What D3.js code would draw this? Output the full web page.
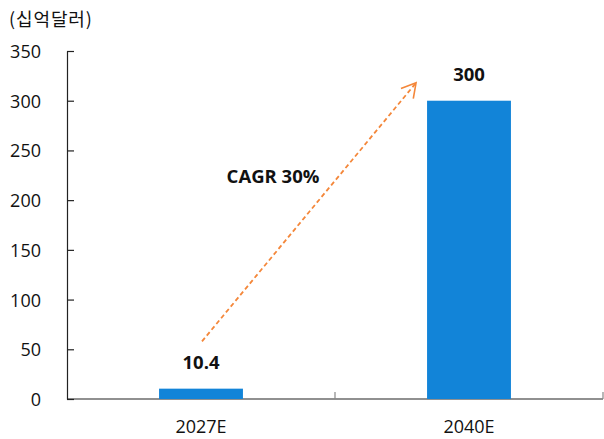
<!DOCTYPE html>
<html>
<head>
<meta charset="utf-8">
<script src="https://cdn.jsdelivr.net/npm/d3@7"></script>
<style>
  html, body { margin: 0; padding: 0; background: #fff; }
  svg { display: block; }
  text { font-family: "Open Sans", "Noto Sans CJK KR", sans-serif; fill: #111; }
</style>
</head>
<body>
<svg id="chart" width="604" height="439"></svg>
<script>
// Market size, billions of USD
const categories = ["2027E", "2040E"];
const values = [10.4, 300];
const valueLabels = ["10.4", "300"];
const yTicks = [0, 50, 100, 150, 200, 250, 300, 350];
const unitLabel = "(십억달러)";
const cagrLabel = "CAGR 30%";
// Growth arrow endpoints expressed in axis values
const arrowFromValue = 58;
const arrowToValue = 318;

const svg = d3.select("#chart");
const margin = { left: 67, right: 1, top: 51, bottom: 40 };
const W = 604, H = 439;

const x = d3.scaleBand()
  .domain(categories)
  .range([margin.left, W - margin.right])
  .paddingInner(0.687)
  .paddingOuter(0.3435);

const y = d3.scaleLinear()
  .domain([0, 350])
  .range([H - margin.bottom, margin.top]);

// Full-band scale used for the category separators on the x axis
const xBand = d3.scaleBand().domain(categories).range([margin.left, W - margin.right]);

// Y axis: ticks drawn inward
const yAxis = d3.axisLeft(y).tickValues(yTicks).tickSize(-7).tickPadding(0).tickSizeOuter(0);
const gy = svg.append("g").attr("transform", `translate(${margin.left},0)`).call(yAxis);
gy.select(".domain").attr("stroke", "#222").attr("stroke-width", 1.2);
gy.selectAll(".tick line").attr("stroke", "#222").attr("stroke-width", 1.2);
gy.selectAll(".tick text")
  .attr("x", -26)
  .attr("dy", "0.36em")
  .style("font-size", "18px")
  .attr("text-anchor", "end")
  .attr("fill", "#111");

// X axis line with separators between categories
const gx = svg.append("g").attr("transform", `translate(0,${y(0)})`);
gx.append("line")
  .attr("x1", margin.left).attr("x2", W - margin.right)
  .attr("stroke", "#222").attr("stroke-width", 1.2);
categories.forEach(c => {
  const xe = xBand(c) + xBand.bandwidth();
  gx.append("line")
    .attr("x1", xe).attr("x2", xe)
    .attr("y1", 0).attr("y2", -7)
    .attr("stroke", "#888").attr("stroke-width", 1.2);
});
gx.selectAll("text.cat")
  .data(categories)
  .join("text")
  .attr("class", "cat")
  .attr("x", d => x(d) + x.bandwidth() / 2)
  .attr("y", 34)
  .attr("text-anchor", "middle")
  .style("font-size", "18px")
  .text(d => d);

// Bars
svg.selectAll("rect.bar")
  .data(values)
  .join("rect")
  .attr("class", "bar")
  .attr("x", (d, i) => x(categories[i]))
  .attr("width", x.bandwidth())
  .attr("y", d => y(d))
  .attr("height", d => y(0) - y(d))
  .attr("fill", "#1284d8");

// Value labels
svg.selectAll("text.val")
  .data(values)
  .join("text")
  .attr("class", "val")
  .attr("x", (d, i) => x(categories[i]) + x.bandwidth() / 2)
  .attr("y", d => y(d) - 19.5)
  .attr("text-anchor", "middle")
  .style("font-size", "18.5px")
  .style("font-weight", "bold")
  .text((d, i) => valueLabels[i]);

// Unit label
svg.append("text")
  .attr("x", 9).attr("y", 26)
  .style("font-family", "'Noto Sans CJK KR', sans-serif")
  .style("font-size", "18px")
  .style("letter-spacing", "0.9px")
  .text(unitLabel);

// Growth arrow
const defs = svg.append("defs");
defs.append("marker")
  .attr("id", "openArrow")
  .attr("viewBox", "0 0 20 20")
  .attr("refX", 18).attr("refY", 10)
  .attr("markerWidth", 20).attr("markerHeight", 20)
  .attr("markerUnits", "userSpaceOnUse")
  .attr("orient", "auto")
  .append("path")
  .attr("d", "M4,2 L18,10 L4,18")
  .attr("fill", "none")
  .attr("stroke", "#f4873a")
  .attr("stroke-width", 1.6);

const x0 = x(categories[0]) + x.bandwidth() / 2 + 1;
const x1 = x(categories[1]) - 11;
svg.append("line")
  .attr("x1", x0).attr("y1", y(arrowFromValue))
  .attr("x2", x1).attr("y2", y(arrowToValue))
  .attr("stroke", "#f4873a")
  .attr("stroke-width", 1.8)
  .attr("stroke-dasharray", "4.5,3")
  .attr("marker-end", "url(#openArrow)");

// CAGR annotation
svg.append("text")
  .attr("x", 273).attr("y", 183)
  .attr("text-anchor", "middle")
  .style("font-size", "18.5px")
  .style("font-weight", "bold")
  .text(cagrLabel);
</script>
</body>
</html>
